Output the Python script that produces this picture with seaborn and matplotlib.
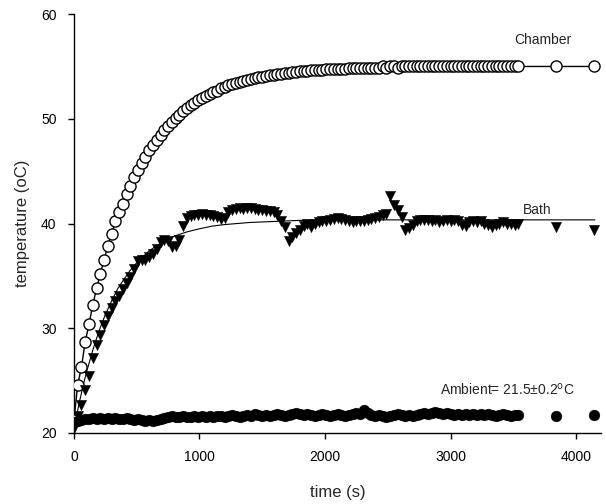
import pandas as pd
import seaborn as sns
import matplotlib.pyplot as plt

# ---------- DATA ----------

time_s = [
    0, 30, 60, 90, 120, 150, 180, 210, 240, 270,
    300, 330, 360, 390, 420, 450, 480, 510, 540, 570,
    600, 630, 660, 690, 720, 750, 780, 810, 840, 870,
    900, 930, 960, 990, 1020, 1050, 1080, 1110, 1140, 1170,
    1200, 1230, 1260, 1290, 1320, 1350, 1380, 1410, 1440, 1470,
    1500, 1530, 1560, 1590, 1620, 1650, 1680, 1710, 1740, 1770,
    1800, 1830, 1860, 1890, 1920, 1950, 1980, 2010, 2040, 2070,
    2100, 2130, 2160, 2190, 2220, 2250, 2280, 2310, 2340, 2370,
    2400, 2430, 2460, 2490, 2520, 2550, 2580, 2610, 2640, 2670,
    2700, 2730, 2760, 2790, 2820, 2850, 2880, 2910, 2940, 2970,
    3000, 3030, 3060, 3090, 3120, 3150, 3180, 3210, 3240, 3270,
    3300, 3330, 3360, 3390, 3420, 3450, 3480, 3510, 3540,
    3840, 4140,
]

chamber = [
    21.2, 24.6, 26.3, 28.7, 30.4, 32.2, 33.8, 35.2, 36.5, 37.9,
    39.0, 40.2, 41.1, 41.9, 42.8, 43.6, 44.4, 45.1, 45.8, 46.4,
    47.0, 47.5, 48.0, 48.5, 48.9, 49.3, 49.7, 50.1, 50.4, 50.7,
    51.0, 51.3, 51.5, 51.8, 52.0, 52.2, 52.4, 52.6, 52.7, 52.9,
    53.0, 53.2, 53.3, 53.4, 53.5, 53.6, 53.7, 53.8, 53.9, 54.0,
    54.0, 54.1, 54.2, 54.2, 54.3, 54.3, 54.4, 54.4, 54.5, 54.5,
    54.6, 54.6, 54.6, 54.7, 54.7, 54.7, 54.7, 54.8, 54.8, 54.8,
    54.8, 54.8, 54.8, 54.9, 54.9, 54.9, 54.9, 54.9, 54.9, 54.9,
    54.9, 54.9, 55.0, 54.9, 55.0, 55.0, 54.9, 55.0, 55.0, 55.0,
    55.0, 55.0, 55.0, 55.0, 55.0, 55.0, 55.0, 55.0, 55.0, 55.0,
    55.0, 55.0, 55.0, 55.0, 55.0, 55.0, 55.0, 55.0, 55.0, 55.0,
    55.0, 55.0, 55.0, 55.0, 55.0, 55.0, 55.0, 55.0, 55.0,
    55.0, 55.0,
]

bath = [
    20.5, 21.6, 22.7, 24.1, 25.4, 27.2, 28.4, 29.4, 30.3, 31.2,
    31.9, 32.6, 33.1, 33.7, 34.3, 34.9, 35.7, 36.4, 36.5, 36.5,
    36.8, 37.1, 37.6, 38.2, 38.4, 38.3, 37.8, 37.9, 38.4, 39.8,
    40.5, 40.7, 40.8, 40.8, 40.9, 40.8, 40.8, 40.7, 40.6, 40.4,
    40.5, 41.1, 41.3, 41.4, 41.5, 41.4, 41.5, 41.5, 41.4, 41.3,
    41.3, 41.2, 41.2, 41.1, 40.8, 40.2, 39.7, 38.3, 38.7, 39.1,
    39.4, 39.8, 40.0, 39.7, 40.0, 40.1, 40.2, 40.2, 40.3, 40.4,
    40.5, 40.4, 40.3, 40.2, 40.1, 40.2, 40.2, 40.2, 40.3, 40.4,
    40.5, 40.6, 40.8, 40.9, 42.6, 41.8, 41.3, 40.6, 39.4, 39.6,
    39.9, 40.2, 40.3, 40.3, 40.3, 40.2, 40.3, 40.1, 40.2, 40.3,
    40.2, 40.3, 40.2, 39.9, 39.8, 40.1, 40.2, 40.1, 40.2, 40.0,
    39.9, 39.7, 39.9, 40.0, 40.1, 40.0, 40.0, 39.9, 40.0,
    39.7, 39.4,
]

ambient = [
    21.0, 21.1, 21.2, 21.3, 21.3, 21.4, 21.3, 21.4, 21.3, 21.4,
    21.3, 21.4, 21.3, 21.3, 21.4, 21.3, 21.2, 21.3, 21.2, 21.1,
    21.2, 21.1, 21.2, 21.3, 21.4, 21.5, 21.6, 21.5, 21.5, 21.6,
    21.5, 21.5, 21.6, 21.5, 21.6, 21.5, 21.6, 21.5, 21.6, 21.6,
    21.5, 21.6, 21.7, 21.6, 21.5, 21.6, 21.7, 21.6, 21.8, 21.7,
    21.6, 21.7, 21.6, 21.7, 21.8, 21.7, 21.6, 21.7, 21.8, 21.9,
    21.8, 21.7, 21.8, 21.7, 21.6, 21.7, 21.8, 21.7, 21.6, 21.7,
    21.8, 21.7, 21.6, 21.7, 21.8, 21.9, 21.8, 22.2, 21.9, 21.7,
    21.6, 21.7, 21.6, 21.5, 21.6, 21.7, 21.8, 21.7, 21.6, 21.7,
    21.6, 21.7, 21.8, 21.9, 21.8, 21.9, 22.0, 21.9, 21.8, 21.9,
    21.8, 21.7, 21.8, 21.7, 21.8, 21.7, 21.8, 21.7, 21.8, 21.7,
    21.8, 21.7, 21.6, 21.7, 21.8, 21.7, 21.6, 21.7, 21.7,
    21.65, 21.7,
]

# fitted curve drawn through the bath data
fit_time = [0, 25, 50, 75, 100, 150, 200, 250, 300, 350, 400, 450, 500,
            600, 700, 800, 900, 1000, 1100, 1200, 1400, 1600, 1800, 2000,
            2400, 2800, 3200, 3600, 4150]
bath_fit = [20.35, 21.9, 23.3, 24.6, 25.8, 27.9, 29.75, 31.3, 32.6, 33.8,
            34.7, 35.55, 36.25, 37.4, 38.2, 38.8, 39.2, 39.5, 39.75, 39.9,
            40.1, 40.2, 40.3, 40.33, 40.35, 40.35, 40.35, 40.35, 40.35]

df = pd.DataFrame({
    "time": time_s,
    "chamber": chamber,
    "bath": bath,
    "ambient": ambient,
})

# ---------- PLOT ----------

sns.set_style("ticks")
plt.rcParams["font.family"] = ["Liberation Sans", "DejaVu Sans"]

fig = plt.figure(figsize=(6.06, 5.04), dpi=100)
ax = fig.add_axes([0.122, 0.141, 0.870, 0.831])

sns.lineplot(
    data=df, x="time", y="chamber", ax=ax,
    color="black", lw=1, marker="o", markersize=8,
    markerfacecolor="white", markeredgecolor="black", markeredgewidth=1,
    zorder=3
)

sns.lineplot(x=fit_time, y=bath_fit, ax=ax, color="black", lw=0.8, zorder=2)

sns.scatterplot(
    data=df, x="time", y="bath", ax=ax,
    marker="v", s=55, color="black", edgecolor="black", linewidth=0.3,
    zorder=4
)

sns.scatterplot(
    data=df, x="time", y="ambient", ax=ax,
    marker="o", s=60, color="black", edgecolor="black", linewidth=0.3,
    zorder=4
)

ax.text(3735, 57.5, "Chamber", fontsize=10, ha="center", va="center")
ax.text(3690, 41.3, "Bath", fontsize=10, ha="center", va="center")
ax.text(3454, 24.1, "Ambient= 21.5\u00b10.2$^{\\rm o}$C", fontsize=10,
        ha="center", va="center")

ax.set_xlim(0, 4200)
ax.set_ylim(20, 60)
ax.set_xticks([0, 1000, 2000, 3000, 4000])
ax.set_yticks([20, 30, 40, 50, 60])

ax.set_xlabel("time (s)", fontsize=12, labelpad=15)
ax.set_ylabel("temperature (oC)", fontsize=12, labelpad=8)

ax.tick_params(direction="out", length=4.5, width=1, labelsize=10, pad=8,
               colors="black")

sns.despine(ax=ax)
for s in ["left", "bottom"]:
    ax.spines[s].set_color("black")
    ax.spines[s].set_linewidth(1)

fig.savefig("out.png", dpi=100)
